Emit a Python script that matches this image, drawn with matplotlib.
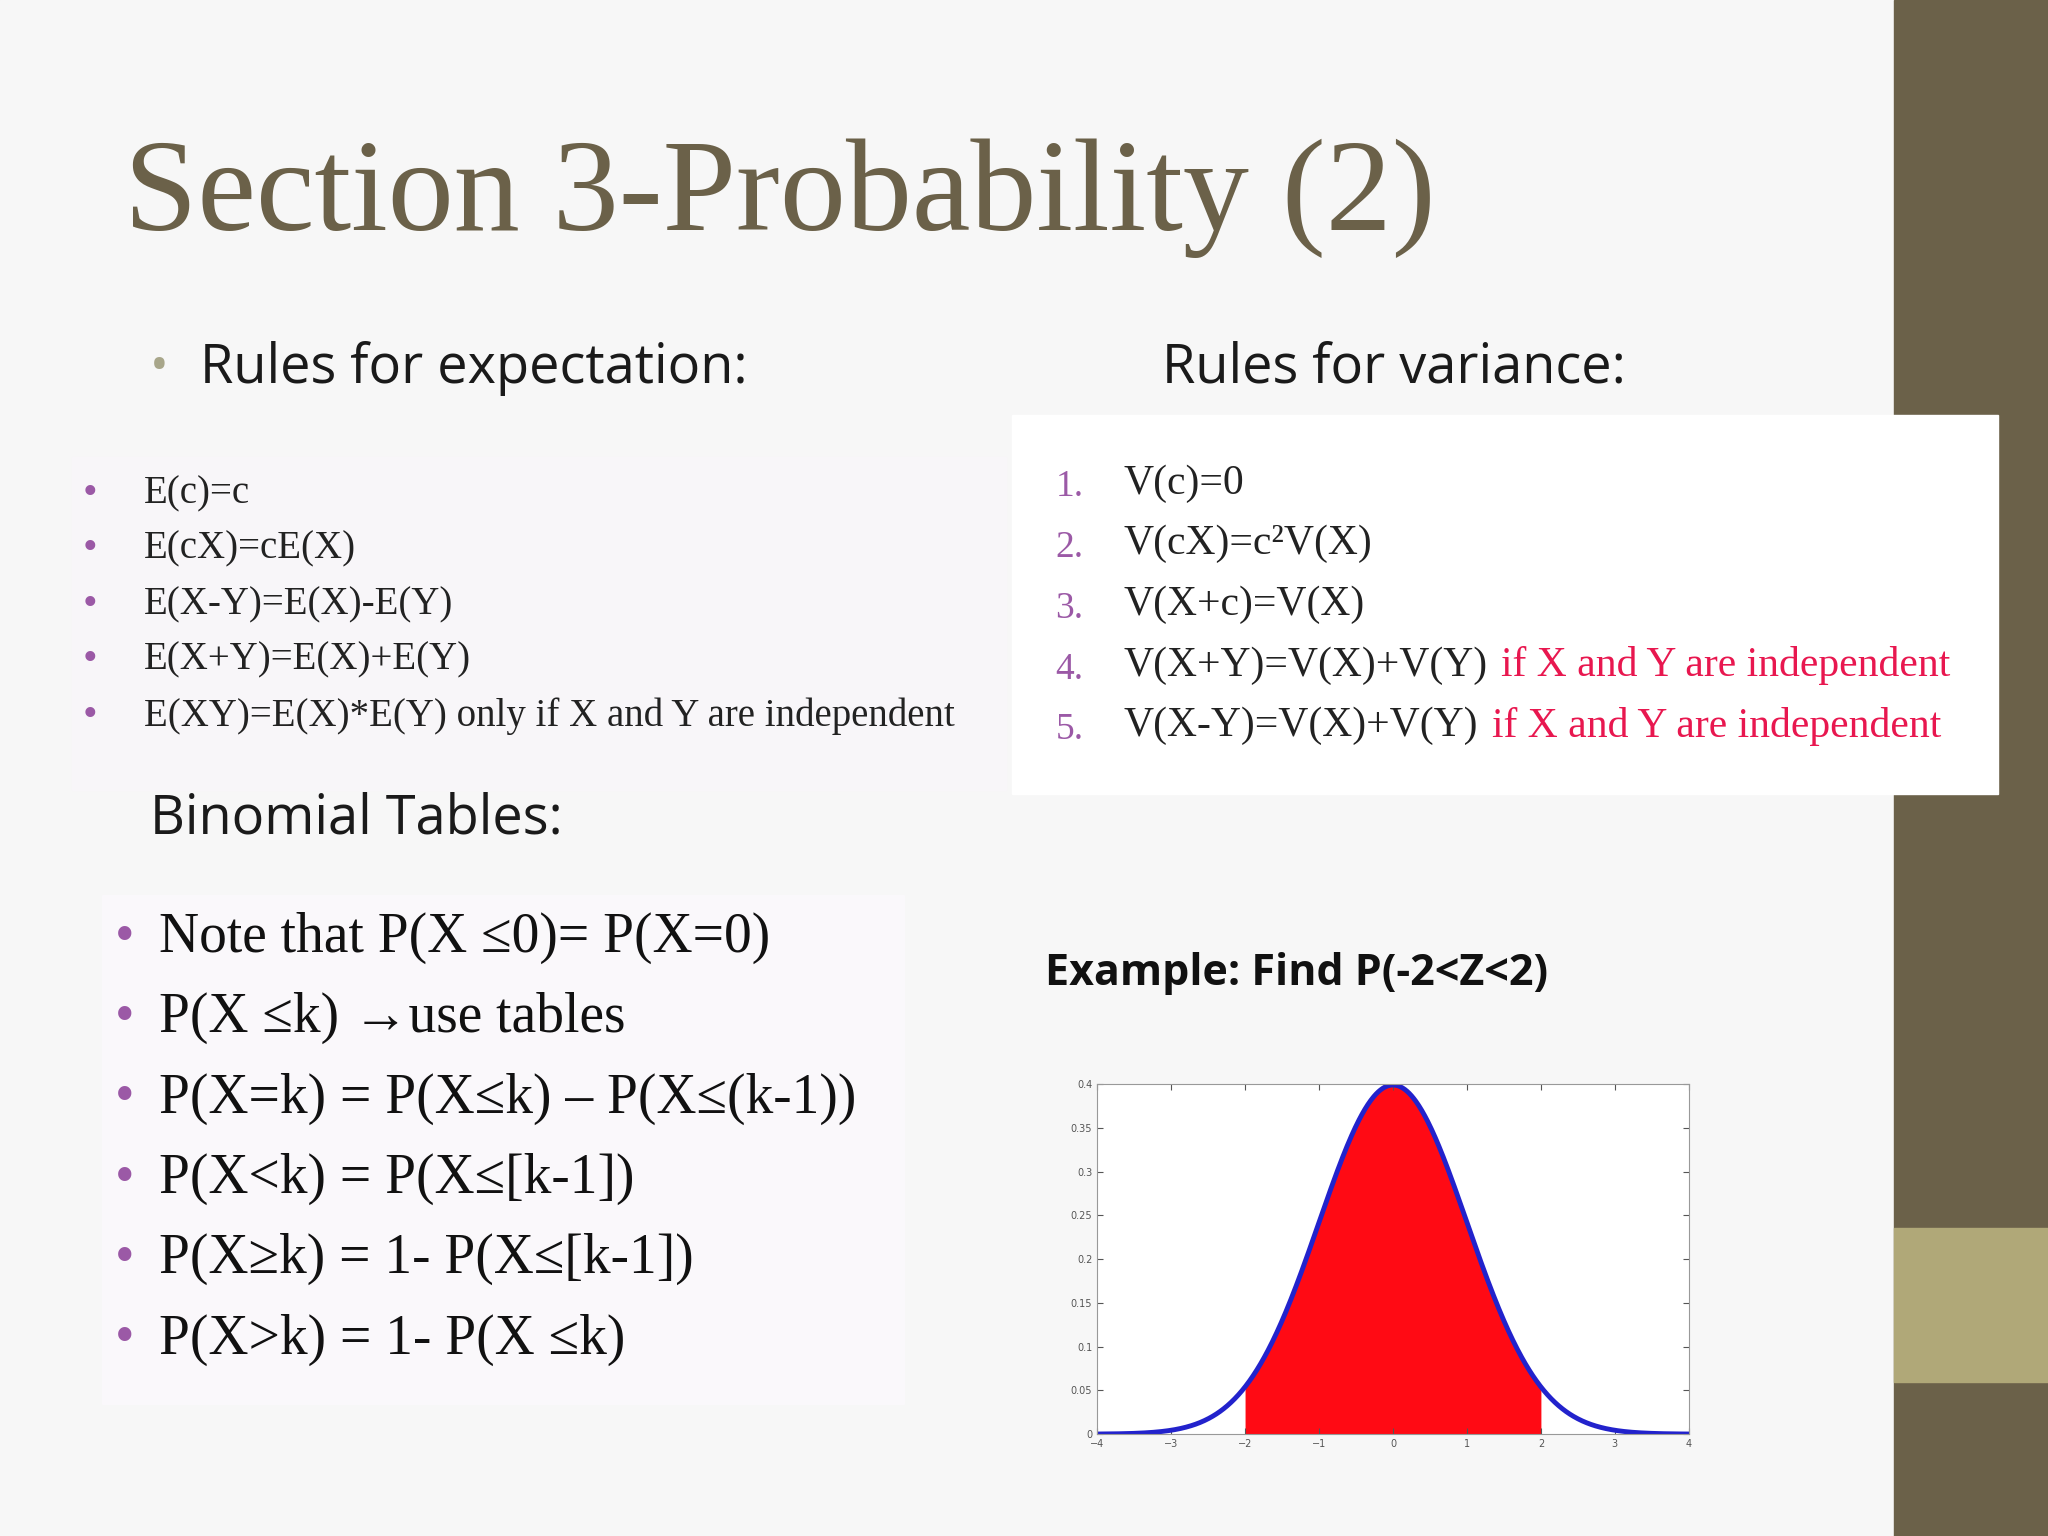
import numpy as np
import matplotlib
matplotlib.use("Agg")
import matplotlib.pyplot as plt
from matplotlib.patches import Rectangle

W, H = 1568, 1176
def fx(x): return x / W
def fy(y): return 1 - y / H

title = "Section 3-Probability (2)"
exp_rules = ["E(c)=c", "E(cX)=cE(X)", "E(X-Y)=E(X)-E(Y)", "E(X+Y)=E(X)+E(Y)",
             "E(XY)=E(X)*E(Y) only if X and Y are independent"]
var_rules = ["V(c)=0", "V(cX)=c\u00b2V(X)", "V(X+c)=V(X)", "V(X+Y)=V(X)+V(Y)", "V(X-Y)=V(X)+V(Y)"]
var_notes = ["", "", "", "if X and Y are independent", "if X and Y are independent"]
binom_rules = ["Note that P(X \u22640)= P(X=0)", "P(X \u2264k) \u2192use tables",
               "P(X=k) = P(X\u2264k) \u2013 P(X\u2264(k-1))", "P(X<k) = P(X\u2264[k-1])",
               "P(X\u2265k) = 1- P(X\u2264[k-1])", "P(X>k) = 1- P(X \u2264k)"]
x_ticks = [-4, -3, -2, -1, 0, 1, 2, 3, 4]
y_ticks = [0, 0.05, 0.1, 0.15, 0.2, 0.25, 0.3, 0.35, 0.4]
y_tick_labels = ["0", "0.05", "0.1", "0.15", "0.2", "0.25", "0.3", "0.35", "0.4"]
shade_lo, shade_hi = -2, 2

SERIF = ["Liberation Serif", "DejaVu Serif"]
SANS = ["Open Sans", "DejaVu Sans"]
OLIVE = "#6b6149"
PURPLE = "#9b59a6"
RED = "#e8174f"

fig = plt.figure(figsize=(20.48, 15.36), dpi=100)
fig.patch.set_facecolor("#f4f4f4")

def rect(x0, y0, x1, y1, color):
    fig.add_artist(Rectangle((fx(x0), fy(y1)), fx(x1) - fx(x0), (y1 - y0) / H,
                             transform=fig.transFigure, color=color, zorder=0))

rect(0, 0, 1450, 1176, "#f7f7f7")
rect(1450, 0, 1568, 1176, OLIVE)
rect(1450, 940, 1568, 1058, "#b0a878")
rect(55, 350, 770, 605, "#f8f6f9")
rect(775, 318, 1530, 608, "#ffffff")
rect(78, 685, 692, 1075, "#faf8fb")

fig.text(fx(95), fy(152), title, family=SERIF, fontsize=95, color=OLIVE, va="center")
fig.text(fx(115), fy(282), "\u2022", family=SANS, fontsize=36, color="#a8a68a", va="center")
fig.text(fx(153), fy(282), "Rules for expectation:", family=SANS, fontsize=39, color="#1a1a1a", va="center")
fig.text(fx(890), fy(282), "Rules for variance:", family=SANS, fontsize=39, color="#1a1a1a", va="center")
fig.text(fx(115), fy(627), "Binomial Tables:", family=SANS, fontsize=39, color="#1a1a1a", va="center")

for i, t in enumerate(exp_rules):
    y = 378 + i * 42.5
    fig.text(fx(63), fy(y), "\u2022", family=SERIF, fontsize=30, color=PURPLE, va="center")
    fig.text(fx(110), fy(y), t, family=SERIF, fontsize=28, color="#222222", va="center")

for i, (t, n) in enumerate(zip(var_rules, var_notes)):
    y = 370 + i * 46.5
    fig.text(fx(808), fy(y + 3), f"{i+1}.", family=SERIF, fontsize=27, color=PURPLE, va="center")
    tx = fig.text(fx(860), fy(y), t, family=SERIF, fontsize=30, color="#222222", va="center")
    if n:
        fig.add_artist(plt.Annotation(n, xy=(1, 0.5), xycoords=tx, xytext=(10, 0),
                                      textcoords="offset points", va="center",
                                      family=SERIF, fontsize=30, color=RED))

for i, t in enumerate(binom_rules):
    y = 718 + i * 61.5
    fig.text(fx(88), fy(y), "\u2022", family=SERIF, fontsize=40, color=PURPLE, va="center")
    fig.text(fx(122), fy(y), t, family=SERIF, fontsize=40, color="#111111", va="center")

fig.text(fx(800), fy(745), "Example: Find P(-2<Z<2)", family=SANS, fontsize=31,
         weight="bold", color="#111111", va="center")

ax = fig.add_axes([fx(840), fy(1098), fx(1293) - fx(840), (1098 - 830) / H])
ax.set_facecolor("white")
x = np.linspace(-4, 4, 801)
pdf = np.exp(-x ** 2 / 2) / np.sqrt(2 * np.pi)
m = (x >= shade_lo) & (x <= shade_hi)
ax.fill_between(x[m], 0, pdf[m], color="#ff0a14", lw=0)
ax.plot(x, pdf, color="#2222cc", lw=3.5)
ax.set_xlim(-4, 4)
ax.set_ylim(0, 0.4)
ax.set_xticks(x_ticks)
ax.set_yticks(y_ticks)
ax.set_yticklabels(y_tick_labels)
ax.tick_params(labelsize=7, colors="#555555", direction="in", top=True, right=True, length=4)
for s in ax.spines.values():
    s.set_color("#999999")

fig.savefig("out.png", dpi=100, facecolor=fig.get_facecolor())
